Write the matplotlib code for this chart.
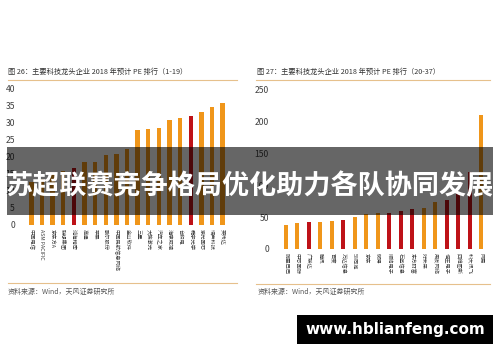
import matplotlib
matplotlib.use('Agg')
import matplotlib.pyplot as plt
from matplotlib.patches import Rectangle

plt.rcParams['font.family'] = ['Noto Sans CJK SC', 'DejaVu Sans']

# 图26 (1-19)
left_names = ['中国电信', 'ASM PACIFIC', '京东方A', '联想集团', '鸿海精密', '高通', '苹果',
              '歌尔股份', '中国民航信息网络', '金山软件', '三星', '大族激光', '汽车之家',
              '海康威视', '台积电', '舜宇光学', '紫光国芯', '瑞声科技', '英伟达']
left_pe = [12.5, 13.5, 15.6, 15.9, 16.5, 18.4, 18.5, 20.5, 20.6, 22.3,
           27.6, 28.1, 28.2, 30.8, 31.2, 31.7, 32.9, 34.4, 35.7]
left_red = [4, 15]

# 图27 (20-37)
right_names = ['阿里巴巴', '中芯国际', '广联达', '腾讯', '百度', '万达信息', '58同城', '京东',
               '微博', '顺络电子', '石基信息', '东方财富', '好未来', '用友网络', '恒生电子',
               '四维图新', '科大讯飞', '网易']
right_pe = [37.7, 40.4, 43, 43, 44, 46, 49.8, 54.5, 56.6, 57,
            59.2, 62.3, 65, 73.5, 77, 87.6, 120.6, 210]
right_red = [2, 5, 9, 10, 11, 14, 15, 16]

ORANGE = '#F0961A'
RED = '#BE1218'
W, H = 500, 362

fig = plt.figure(figsize=(5, 3.62), dpi=100)


def px_axes(x0, y_top, x1, y_bot):
    return fig.add_axes([x0 / W, 1 - y_bot / H, (x1 - x0) / W, (y_bot - y_top) / H])


def draw_panel(ax, names, values, reds, ymax, step, width):
    colors = [RED if i in reds else ORANGE for i in range(len(values))]
    ax.bar(range(len(values)), values, width=width, color=colors)
    ax.set_xlim(-0.5, len(values) - 0.5)
    ax.set_ylim(0, ymax)
    ax.set_yticks(range(0, ymax + 1, step))
    ax.set_xticks(range(len(values)))
    ax.set_xticklabels(names, rotation=270, fontsize=3.8, color='#404040')
    ax.tick_params(axis='y', labelsize=6.2, colors='#404040', length=0, pad=8)
    ax.tick_params(axis='x', length=0, pad=3)
    for s in ax.spines.values():
        s.set_visible(False)


ax1 = px_axes(26, 88, 228, 225)
draw_panel(ax1, left_names, left_pe, left_red, 40, 5, 0.42)

ax2 = px_axes(280, 90, 487, 249)
draw_panel(ax2, right_names, right_pe, right_red, 250, 50, 0.38)

# titles, rules and sources
fig.text(8 / W, 1 - 72 / H, '图 26：主要科技龙头企业 2018 年预计 PE 排行（1-19）',
         fontsize=5.2, color='#333333', va='center')
fig.text(257 / W, 1 - 72 / H, '图 27：主要科技龙头企业 2018 年预计 PE 排行（20-37）',
         fontsize=5.2, color='#333333', va='center')
fig.add_artist(plt.Line2D([8 / W, 237 / W], [1 - 80 / H] * 2, color='#E6C08C', lw=0.8))
fig.add_artist(plt.Line2D([256 / W, 490 / W], [1 - 80 / H] * 2, color='#E6C08C', lw=0.8))
fig.add_artist(plt.Line2D([8 / W, 237 / W], [1 - 283 / H] * 2, color='#E6C08C', lw=0.8))
fig.add_artist(plt.Line2D([256 / W, 490 / W], [1 - 284 / H] * 2, color='#E6C08C', lw=0.8))
fig.text(8 / W, 1 - 292 / H, '资料来源：Wind，天风证券研究所', fontsize=5, color='#555555', va='center')
fig.text(258 / W, 1 - 292 / H, '资料来源：Wind，天风证券研究所', fontsize=5, color='#555555', va='center')

# banner overlay
fig.add_artist(Rectangle((7 / W, 1 - 215 / H), 486 / W, 68 / H, transform=fig.transFigure,
                         facecolor='black', alpha=0.6, edgecolor='none'))
fig.text(250 / W, 1 - 186 / H, '苏超联赛竞争格局优化助力各队协同发展', fontsize=19.5,
         fontweight='bold', color='white', ha='center', va='center')

# watermark
fig.add_artist(Rectangle((297 / W, 1 - 344 / H), 196 / W, 29 / H, transform=fig.transFigure,
                         facecolor='black', edgecolor='none'))
fig.text(395 / W, 1 - 329.5 / H, 'www.hblianfeng.com', fontsize=11, fontweight='bold',
         color='white', ha='center', va='center', family=['DejaVu Sans'])

fig.savefig('out.png', dpi=100)
